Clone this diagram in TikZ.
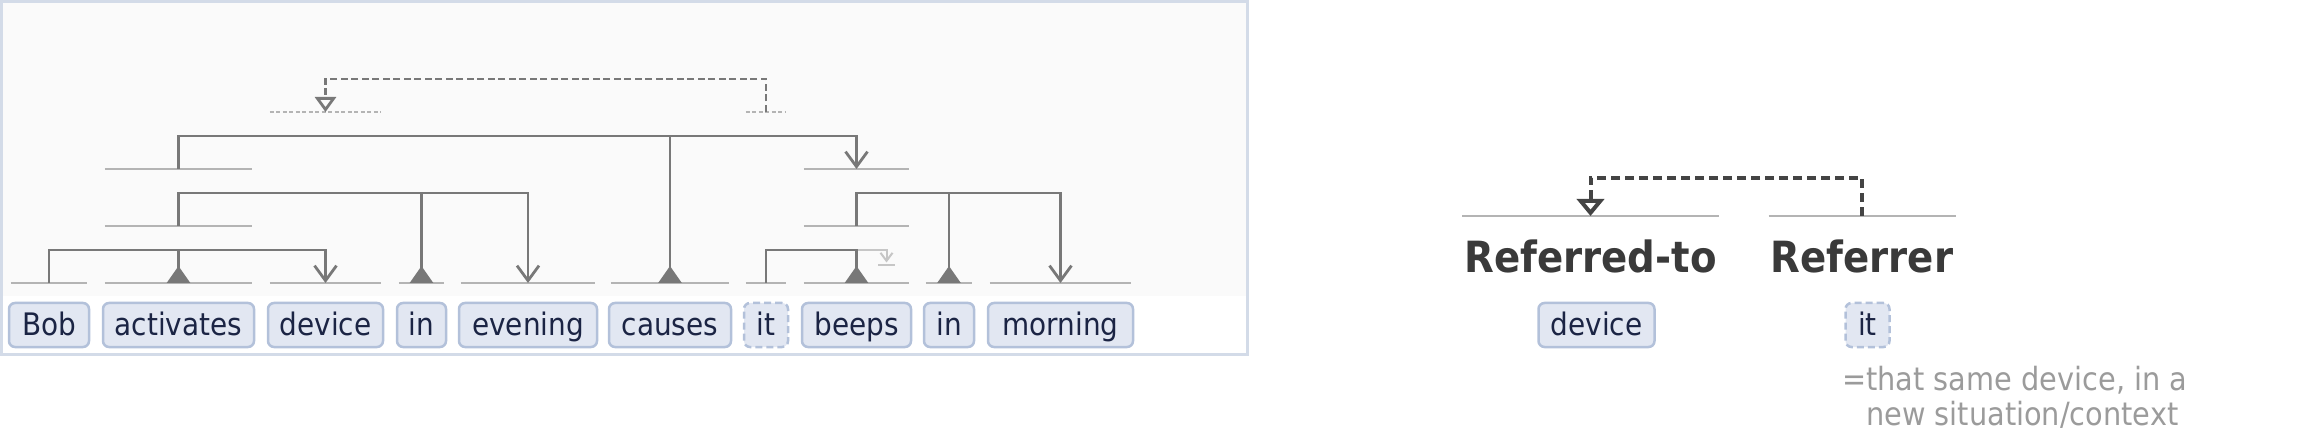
\documentclass[tikz,border=0pt]{standalone}
\usepackage{fontspec}
\usetikzlibrary{arrows.meta}
\newfontfamily\tokfont{DejaVu Sans Condensed}
\newfontfamily\rolefont{DejaVu Sans Condensed Bold}
\definecolor{tokfill}{HTML}{E2E7F2}
\definecolor{tokline}{HTML}{B3C1DA}
\definecolor{toktext}{HTML}{1B2444}
\definecolor{slotgray}{HTML}{B4B4B4}
\definecolor{linkgray}{HTML}{787878}
\definecolor{faintgray}{HTML}{C6C6C6}
\definecolor{panelline}{HTML}{D3DBE8}
\definecolor{panelbg}{HTML}{FAFAFA}
\definecolor{legdark}{HTML}{444444}
\definecolor{rolegray}{HTML}{3A3A3A}
\definecolor{glossgray}{HTML}{9B9B9B}
\tikzset{
	tok/.style={draw=tokline,fill=tokfill,line width=2.5pt,rounded corners=6pt,minimum height=44pt,inner sep=0pt,text=toktext,font=\tokfont\fontsize{31}{36}\selectfont,text height=22pt,text depth=0pt},
	tokref/.style={tok,dash pattern=on 7pt off 4pt},
	slot/.style={draw=slotgray,line width=2.5pt},
	refslot/.style={draw=slotgray,line width=2pt,dash pattern=on 4pt off 2.5pt},
	link/.style={draw=linkgray,line width=2.8pt},
	coref/.style={draw=linkgray,line width=2.8pt,dash pattern=on 7pt off 3.5pt},
	legref/.style={draw=legdark,line width=4pt,dash pattern=on 9pt off 5pt},
	gapline/.style={draw=faintgray,line width=2pt},
	role/.style={font=\rolefont\fontsize{43}{50}\selectfont,text=rolegray,inner sep=0pt,anchor=base},
	gloss/.style={font=\tokfont\fontsize{32}{38}\selectfont,text=glossgray,inner sep=0pt,anchor=base west},
	headmark/.tip={Triangle[reversed,length=17pt,width=23pt]},
	deparrow/.tip={Straight Barb[length=15pt,width=22pt]},
	reftip/.tip={Triangle[open,length=15pt,width=21pt]},
	gaptip/.tip={Straight Barb[length=8pt,width=12pt]},
	legtip/.tip={Triangle[open,length=17pt,width=27pt]}
}
\begin{document}
\begin{tikzpicture}[x=1pt,y=-1pt]
	\useasboundingbox (0,0) rectangle (2300,430);
	\fill[panelbg] (3,3) rectangle (1245.5,296);
	\draw[panelline,line width=3pt] (1.5,1.5) rectangle (1247,354);

	\foreach \n/\x/\w/\t in {bob/49/80/Bob,act/178.5/151/activates,dev/325.5/115/device,ina/421.5/49/in,eve/528/138/evening,cau/670/122/causes,bee/856.5/109/beeps,inb/949/50/in,mor/1060.5/145/morning}
		\node[tok,minimum width=\w pt] (\n) at (\x,325) {\t};
	\node[tokref,minimum width=44pt] (it) at (766,325) {it};

	\foreach \n in {bob,act,dev,ina,eve,cau,it,bee,inb,mor}{
		\draw[slot] ([shift={(3,-42)}]\n.west)--([shift={(-3,-42)}]\n.east);
		\coordinate (\n-s) at ([shift={(0,-42)}]\n.center);
	}
	\foreach \n in {act,bee}{
		\draw[slot] ([shift={(3,-99)}]\n.west)--([shift={(-3,-99)}]\n.east);
		\draw[slot] ([shift={(3,-156)}]\n.west)--([shift={(-3,-156)}]\n.east);
		\coordinate (\n-p) at ([shift={(0,-99)}]\n.center);
		\coordinate (\n-q) at ([shift={(0,-156)}]\n.center);
	}
	\foreach \n in {dev,it}{
		\draw[refslot] ([shift={(3,-213)}]\n.west)--([shift={(-3,-213)}]\n.east);
		\coordinate (\n-r) at ([shift={(0,-213)}]\n.center);
	}

	\draw[link,-deparrow] (bob-s)|-(dev-s |- 0,250)--(dev-s);
	\draw[link,-headmark] (act-s |- 0,250)--(act-s);
	\draw[link,-deparrow] (act-p)|-(eve-s |- 0,193)--(eve-s);
	\draw[link,-headmark] (ina-s |- 0,193)--(ina-s);
	\draw[link,-deparrow] (act-q)|-(bee-q |- 0,136)--(bee-q);
	\draw[link,-headmark] (cau-s |- 0,136)--(cau-s);
	\draw[link,-deparrow] (bee-p)|-(mor-s |- 0,193)--(mor-s);
	\draw[link,-headmark] (inb-s |- 0,193)--(inb-s);
	\coordinate (gap) at (886.5,265);
	\draw[gapline] ([xshift=-8.5pt]gap)--([xshift=8.5pt]gap);
	\draw[gapline,-gaptip] (bee-s |- 0,250)-|([shift={(0,-2.5)}]gap);
	\draw[link,-headmark] (it-s)|-(bee-s |- 0,250)--(bee-s);
	\draw[coref,-reftip] (it-r)--++(0,-33)-|(dev-r);

	\node[role] (rto) at (1590.5,273) {Referred-to};
	\node[role] (rer) at (1862,273) {Referrer};
	\foreach \n in {rto,rer}{
		\draw[slot] ([shift={(-2,-57)}]\n.base west)--([shift={(2,-57)}]\n.base east);
		\coordinate (\n-s) at ([shift={(0,-57)}]\n.base);
	}
	\draw[legref,-legtip] (rer-s)--++(0,-38)-|(rto-s);
	\node[tok,minimum width=116pt] (ldev) at (1596.5,325) {device};
	\node[tokref,minimum width=44pt] (lit) at (1867.5,325) {it};
	\node[gloss] (gloss) at (1842,390) {=that same device, in a};
	\node[gloss] (gloss2) at (1866,425) {new situation/context};
\end{tikzpicture}
\end{document}
